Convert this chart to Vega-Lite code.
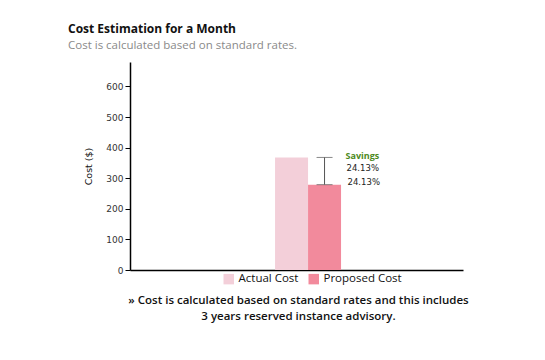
{
  "$schema": "https://vega.github.io/schema/vega-lite/v6.json",
  "autosize": "none",
  "width": 333,
  "height": 208,
  "padding": {"left": 130, "top": 62, "right": 82, "bottom": 90},
  "background": "white",
  "title": {
    "text": "Cost Estimation for a Month",
    "subtitle": "Cost is calculated based on standard rates.",
    "anchor": "start",
    "frame": "group",
    "dx": -62,
    "offset": 10,
    "font": "Open Sans",
    "fontSize": 12,
    "fontWeight": "bold",
    "color": "#111",
    "subtitleFont": "Open Sans",
    "subtitleFontSize": 11.5,
    "subtitleColor": "#8a8a8a",
    "subtitlePadding": 4
  },
  "config": {
    "view": {"stroke": null},
    "axisY": {
      "grid": false,
      "labelOverlap": false,
      "domainColor": "#000",
      "domainWidth": 1.5,
      "tickColor": "#000",
      "tickSize": 5,
      "labelFont": "DejaVu Sans",
      "labelFontSize": 9,
      "labelColor": "#333",
      "titleFont": "DejaVu Sans",
      "titleFontSize": 9.5,
      "titleFontWeight": "normal",
      "titleColor": "#111",
      "titlePadding": 12
    }
  },
  "datasets": {
    "bars": [
      {"period": "Month", "type": "Actual Cost", "cost": 368},
      {"period": "Month", "type": "Proposed Cost", "cost": 279}
    ],
    "saving": [
      {"period": "Month", "type": "Proposed Cost", "low": 279, "high": 368, "label": "Savings", "pct": "24.13%"}
    ]
  },
  "encoding": {
    "x": {
      "field": "period",
      "type": "nominal",
      "scale": {"paddingInner": 0, "paddingOuter": 1, "align": 0.552},
      "axis": {
        "labels": false,
        "ticks": false,
        "domainColor": "#000",
        "domainWidth": 1.5,
        "title": ["» Cost is calculated based on standard rates and this includes", "3 years reserved instance advisory."],
        "titleFont": "Open Sans",
        "titleFontSize": 11.5,
        "titleFontWeight": 600,
        "titleColor": "#111",
        "titlePadding": 24,
        "titleLineHeight": 16,
        "titleX": 168
      }
    },
    "xOffset": {
      "field": "type",
      "type": "nominal",
      "scale": {"domain": ["Actual Cost", "Proposed Cost"], "paddingInner": 0, "paddingOuter": 0.682}
    }
  },
  "layer": [
    {
      "data": {"name": "bars"},
      "mark": {"type": "bar"},
      "encoding": {
        "y": {
          "field": "cost",
          "type": "quantitative",
          "scale": {"domain": [0, 680], "nice": false},
          "axis": {"values": [0, 100, 200, 300, 400, 500, 600], "title": "Cost ($)"}
        },
        "color": {
          "field": "type",
          "type": "nominal",
          "scale": {"domain": ["Actual Cost", "Proposed Cost"], "range": ["#f3cfd9", "#f28a9c"]},
          "legend": {
            "title": null,
            "orient": "none",
            "direction": "horizontal",
            "legendX": 93,
            "legendY": 211,
            "symbolType": "square",
            "symbolSize": 110,
            "symbolStrokeWidth": 0,
            "labelFont": "Open Sans",
            "labelFontSize": 11.5,
            "labelColor": "#111",
            "columnPadding": 9
          }
        }
      }
    },
    {
      "data": {"name": "saving"},
      "mark": {"type": "rule", "color": "#555", "strokeWidth": 1},
      "encoding": {
        "y": {"field": "low", "type": "quantitative", "axis": {"values": [0, 100, 200, 300, 400, 500, 600], "title": "Cost ($)"}},
        "y2": {"field": "high"}
      }
    },
    {
      "data": {"name": "saving"},
      "mark": {"type": "tick", "color": "#555", "thickness": 1, "size": 16},
      "encoding": {"y": {"field": "low", "type": "quantitative", "axis": {"values": [0, 100, 200, 300, 400, 500, 600], "title": "Cost ($)"}}}
    },
    {
      "data": {"name": "saving"},
      "mark": {"type": "tick", "color": "#555", "thickness": 1, "size": 16},
      "encoding": {"y": {"field": "high", "type": "quantitative", "axis": {"values": [0, 100, 200, 300, 400, 500, 600], "title": "Cost ($)"}}}
    },
    {
      "data": {"name": "saving"},
      "mark": {"type": "text", "align": "left", "dx": 21, "dy": -1, "font": "Open Sans", "fontSize": 9, "fontWeight": "bold", "color": "#4e8a22"},
      "encoding": {"y": {"field": "high", "type": "quantitative", "axis": {"values": [0, 100, 200, 300, 400, 500, 600], "title": "Cost ($)"}}, "text": {"field": "label"}}
    },
    {
      "data": {"name": "saving"},
      "mark": {"type": "text", "align": "left", "dx": 22, "dy": 11, "font": "DejaVu Sans", "fontSize": 8.5, "color": "#222"},
      "encoding": {"y": {"field": "high", "type": "quantitative", "axis": {"values": [0, 100, 200, 300, 400, 500, 600], "title": "Cost ($)"}}, "text": {"field": "pct"}}
    },
    {
      "data": {"name": "saving"},
      "mark": {"type": "text", "align": "left", "dx": 23, "dy": -3, "font": "DejaVu Sans", "fontSize": 8.5, "color": "#222"},
      "encoding": {"y": {"field": "low", "type": "quantitative", "axis": {"values": [0, 100, 200, 300, 400, 500, 600], "title": "Cost ($)"}}, "text": {"field": "pct"}}
    }
  ]
}
